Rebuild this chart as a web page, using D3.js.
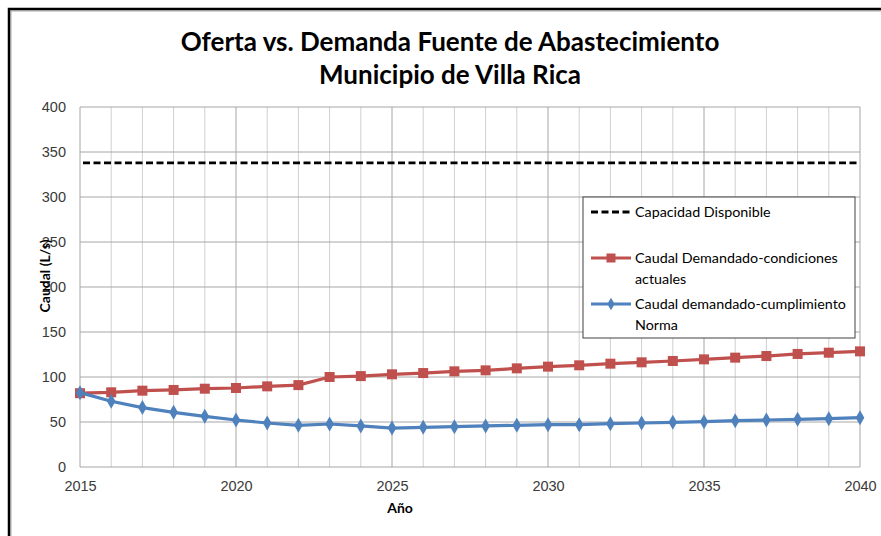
<!DOCTYPE html>
<html>
<head>
<meta charset="utf-8">
<script src="https://cdn.jsdelivr.net/npm/d3@7"></script>
<style>
  body { margin: 0; background: #fff; }
  svg { display: block; font-family: "Lato", "Liberation Sans", sans-serif; }
  .tick text { font-size: 14.5px; fill: #3a3a3a; }
  .domain { display: none; }
</style>
</head>
<body>
<svg id="chart" width="881" height="536"></svg>
<script>
const years = d3.range(2015, 2041);
const capacidad = 338;
const demandaActual = [82, 83, 84.8, 85.6, 87, 87.8, 89.6, 91, 100, 101, 103, 104.4, 106.3,
  107.4, 109.6, 111.5, 113, 114.8, 116.3, 117.8, 119.6, 121.5, 123.3, 125.6, 127, 128.5];
const demandaNorma = [82.6, 73, 66, 60.7, 56.3, 52.2, 48.9, 46.3, 47.8, 45.6, 43.3, 44.1, 44.8,
  45.6, 46.3, 47, 47, 48.1, 48.9, 49.6, 50.4, 51.5, 52.2, 53, 53.7, 54.8];
const yTicks = [0, 50, 100, 150, 200, 250, 300, 350, 400];
const xTicks = [2015, 2020, 2025, 2030, 2035, 2040];

const svg = d3.select("#chart");
const plotLeft = 80, plotRight = 860, plotTop = 107, plotBottom = 467;

// chart frame
svg.append("rect").attr("x", 11).attr("y", 11).attr("width", 900).attr("height", 600)
  .attr("fill", "none").attr("stroke", "#aaa").attr("stroke-width", 1);
svg.append("rect").attr("x", 9).attr("y", 9).attr("width", 900).attr("height", 600)
  .attr("fill", "none").attr("stroke", "#000").attr("stroke-width", 2.5);

const x = d3.scaleLinear().domain([2015, 2040]).range([plotLeft, plotRight]);
const y = d3.scaleLinear().domain([0, 400]).range([plotBottom, plotTop]);

// grid
const grid = svg.append("g");
grid.selectAll(".vg").data(years).join("line")
  .attr("x1", d => x(d)).attr("x2", d => x(d))
  .attr("y1", plotTop).attr("y2", plotBottom)
  .attr("stroke", d => d % 5 === 0 ? "#a6a6a6" : "#d0d0d0").attr("stroke-width", 1);
grid.selectAll(".hg").data(yTicks).join("line")
  .attr("x1", plotLeft).attr("x2", plotRight)
  .attr("y1", d => y(d)).attr("y2", d => y(d))
  .attr("stroke", "#a6a6a6").attr("stroke-width", 1);

// axes
svg.append("g").attr("transform", `translate(${plotLeft - 6},0)`)
  .call(d3.axisLeft(y).tickValues(yTicks).tickSize(0).tickPadding(8));
svg.append("g").attr("transform", `translate(0,${plotBottom})`)
  .call(d3.axisBottom(x).tickValues(xTicks).tickFormat(d3.format("d")).tickSize(0).tickPadding(14));

// capacity
svg.append("line")
  .attr("x1", x(2015) + 3).attr("x2", x(2040))
  .attr("y1", y(capacidad)).attr("y2", y(capacidad))
  .attr("stroke", "#000").attr("stroke-width", 2.8).attr("stroke-dasharray", "7,3.5");

const line = d3.line().x((d, i) => x(years[i])).y(d => y(d));

// series
svg.append("path").datum(demandaActual).attr("d", line)
  .attr("fill", "none").attr("stroke", "#c0504d").attr("stroke-width", 3.2);
svg.selectAll(".sq").data(demandaActual).join("rect")
  .attr("x", (d, i) => x(years[i]) - 5).attr("y", d => y(d) - 5)
  .attr("width", 10).attr("height", 10).attr("fill", "#c0504d");

svg.append("path").datum(demandaNorma).attr("d", line)
  .attr("fill", "none").attr("stroke", "#4f81bd").attr("stroke-width", 3.2);
svg.selectAll(".dm").data(demandaNorma).join("path")
  .attr("d", d3.symbol(d3.symbolDiamond, 65))
  .attr("transform", (d, i) => `translate(${x(years[i])},${y(d)})`)
  .attr("fill", "#4f81bd");

// titles
const title = svg.append("text").attr("x", 450).attr("text-anchor", "middle")
  .attr("font-size", 26).attr("font-weight", "bold").attr("fill", "#000");
title.append("tspan").attr("x", 450).attr("y", 51).text("Oferta vs. Demanda Fuente de Abastecimiento");
title.append("tspan").attr("x", 450).attr("y", 84).text("Municipio de Villa Rica");

svg.append("text").attr("transform", "translate(50,276) rotate(-90)")
  .attr("text-anchor", "middle").attr("font-size", 14).attr("font-weight", "bold")
  .text("Caudal (L/s)");
svg.append("text").attr("x", 400).attr("y", 513).attr("text-anchor", "middle")
  .attr("font-size", 14).attr("font-weight", "bold").text("Año");

// legend
const lg = svg.append("g").attr("transform", "translate(583,197)");
lg.append("rect").attr("width", 272).attr("height", 141)
  .attr("fill", "#fff").attr("stroke", "#404040").attr("stroke-width", 1);
const items = [
  { y: 15, lines: ["Capacidad Disponible"], type: "cap" },
  { y: 61, lines: ["Caudal Demandado-condiciones", "actuales"], type: "sq" },
  { y: 107, lines: ["Caudal demandado-cumplimiento", "Norma"], type: "dm" }
];
items.forEach(it => {
  const g = lg.append("g").attr("transform", `translate(0,${it.y})`);
  if (it.type === "cap") {
    g.append("line").attr("x1", 8).attr("x2", 48).attr("stroke", "#000")
      .attr("stroke-width", 2.8).attr("stroke-dasharray", "7,3.5");
  } else {
    const c = it.type === "sq" ? "#c0504d" : "#4f81bd";
    g.append("line").attr("x1", 8).attr("x2", 48).attr("stroke", c).attr("stroke-width", 3.2);
    if (it.type === "sq") g.append("rect").attr("x", 23.5).attr("y", -4.5).attr("width", 9).attr("height", 9).attr("fill", c);
    else g.append("path").attr("d", d3.symbol(d3.symbolDiamond, 45)).attr("transform", "translate(28,0)").attr("fill", c);
  }
  const t = g.append("text").attr("font-size", 14.3).attr("fill", "#000");
  it.lines.forEach((l, k) => t.append("tspan").attr("x", 52).attr("y", 5 + k * 21).text(l));
});
</script>
</body>
</html>
